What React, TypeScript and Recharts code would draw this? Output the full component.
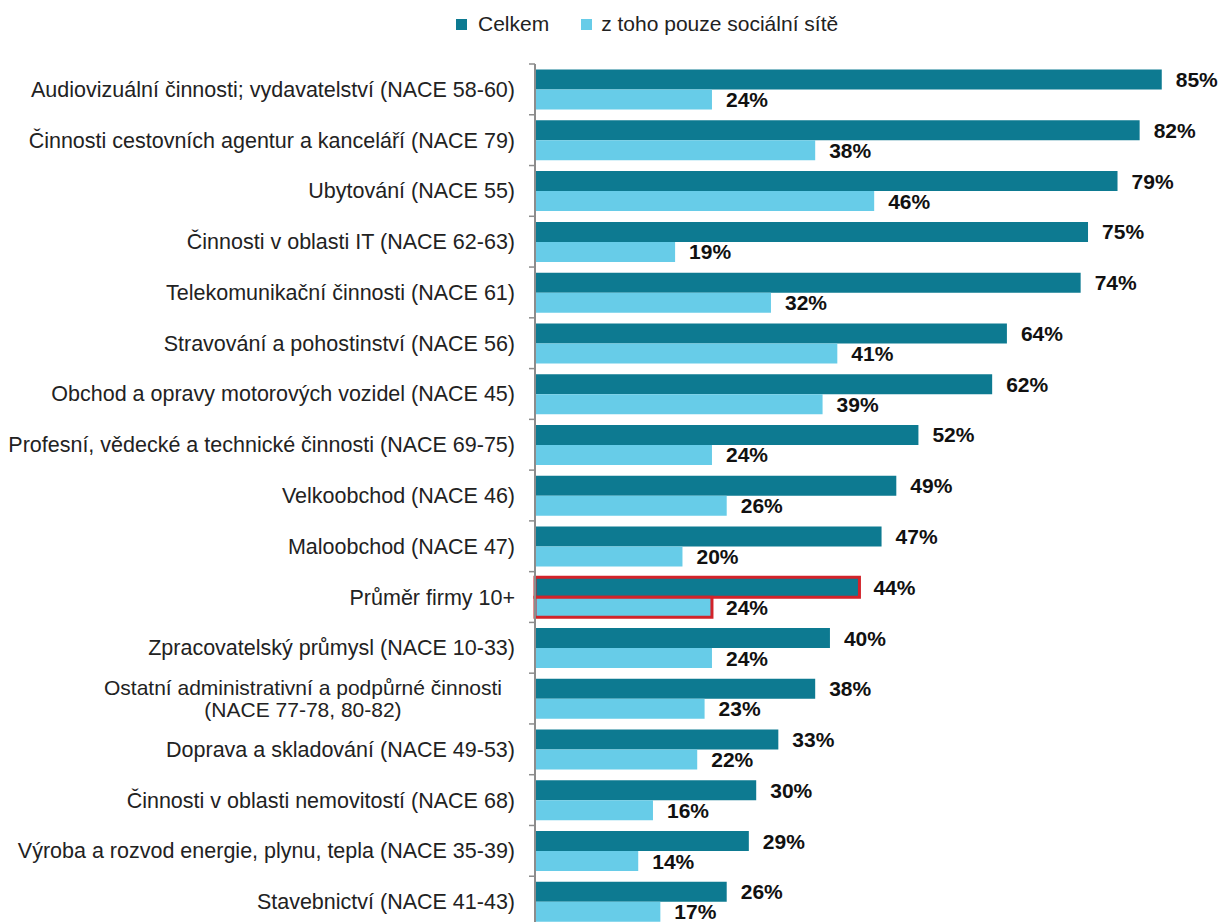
import { BarChart, Bar, XAxis, YAxis, Cell, LabelList } from 'recharts';

const categories = [
  'Audiovizuální činnosti; vydavatelství (NACE 58-60)',
  'Činnosti cestovních agentur a kanceláří (NACE 79)',
  'Ubytování (NACE 55)',
  'Činnosti v oblasti IT (NACE 62-63)',
  'Telekomunikační činnosti (NACE 61)',
  'Stravování a pohostinství (NACE 56)',
  'Obchod a opravy motorových vozidel (NACE 45)',
  'Profesní, vědecké a technické činnosti (NACE 69-75)',
  'Velkoobchod (NACE 46)',
  'Maloobchod (NACE 47)',
  'Průměr firmy 10+',
  'Zpracovatelský průmysl (NACE 10-33)',
  'Ostatní administrativní a podpůrné činnosti\n(NACE 77-78, 80-82)',
  'Doprava a skladování (NACE 49-53)',
  'Činnosti v oblasti nemovitostí (NACE 68)',
  'Výroba a rozvod energie, plynu, tepla (NACE 35-39)',
  'Stavebnictví (NACE 41-43)',
];
const celkem = [85, 82, 79, 75, 74, 64, 62, 52, 49, 47, 44, 40, 38, 33, 30, 29, 26];
const socialni = [24, 38, 46, 19, 32, 41, 39, 24, 26, 20, 24, 24, 23, 22, 16, 14, 17];
const highlighted = 'Průměr firmy 10+';

const DARK = '#0d7a91';
const LIGHT = '#67cce8';
const RED = '#d2232a';
const FONT = '"Liberation Sans", Arial, sans-serif';

const data = categories.map((name, i) => ({ name, celkem: celkem[i], socialni: socialni[i] }));

// category label, right aligned; a wrapped label is centred as a block
const CategoryTick = (props: any) => {
  const { x, y, payload } = props;
  const half = payload?.offset ?? 25.4;
  const lines = String(payload.value).split('\n');
  return (
    <g>
      <line x1={x + 14} x2={x + 20} y1={y - half} y2={y - half} stroke="#8c8c8c" strokeWidth={1.5} />
      {lines.length === 1 ? (
        <text x={x} y={y} dy="0.35em" textAnchor="end" fontSize={21.5} fill="#222" fontFamily={FONT}>
          {lines[0]}
        </text>
      ) : (
        <text fontSize={21} fill="#222" fontFamily={FONT} textAnchor="middle">
          <tspan x={x - 212} y={y - 11} dy="0.35em">{lines[0]}</tspan>
          <tspan x={x - 212} y={y + 11} dy="0.35em">{lines[1]}</tspan>
        </text>
      )}
    </g>
  );
};

const ValueLabel = (props: any) => {
  const { x, y, width, height, value } = props;
  return (
    <text x={x + width + 14} y={y + height / 2} dy="0.36em" fontSize={21} fontWeight="bold" fill="#111" fontFamily={FONT}>
      {value}%
    </text>
  );
};

export default function App() {
  return (
    <div style={{ position: 'relative', width: 1212, height: 914, overflow: 'hidden', background: '#fff' }}>
      <style>{'html{overflow:hidden}'}</style>
      <div
        style={{
          position: 'absolute', top: 4, left: 448, display: 'flex', alignItems: 'center',
          fontFamily: FONT, fontSize: 21, color: '#222',
        }}
      >
        <span style={{ width: 11, height: 11, background: DARK, display: 'inline-block', marginRight: 11 }} />
        <span>Celkem</span>
        <span style={{ width: 11, height: 11, background: LIGHT, display: 'inline-block', marginLeft: 32, marginRight: 9 }} />
        <span>z toho pouze sociální sítě</span>
      </div>
      <BarChart
        width={1212}
        height={930}
        data={data}
        layout="vertical"
        margin={{ top: 56, right: 14, bottom: 11, left: 0 }}
        barCategoryGap="11%"
        barGap={0}
      >
        <XAxis type="number" domain={[0, 91]} hide />
        <YAxis
          type="category"
          dataKey="name"
          width={527}
          interval={0}
          tickLine={false}
          tickSize={0}
          tickMargin={20}
          axisLine={{ stroke: '#8c8c8c', strokeWidth: 2 }}
          tick={<CategoryTick />}
        />
        <Bar dataKey="celkem" fill={DARK} isAnimationActive={false}>
          {data.map((d) => (
            <Cell
              key={`c-${d.name}`}
              fill={DARK}
              stroke={d.name === highlighted ? RED : 'none'}
              strokeWidth={d.name === highlighted ? 3 : 0}
            />
          ))}
          <LabelList dataKey="celkem" content={<ValueLabel />} />
        </Bar>
        <Bar dataKey="socialni" fill={LIGHT} isAnimationActive={false}>
          {data.map((d) => (
            <Cell
              key={`s-${d.name}`}
              fill={LIGHT}
              stroke={d.name === highlighted ? RED : 'none'}
              strokeWidth={d.name === highlighted ? 3 : 0}
            />
          ))}
          <LabelList dataKey="socialni" content={<ValueLabel />} />
        </Bar>
      </BarChart>
    </div>
  );
}
